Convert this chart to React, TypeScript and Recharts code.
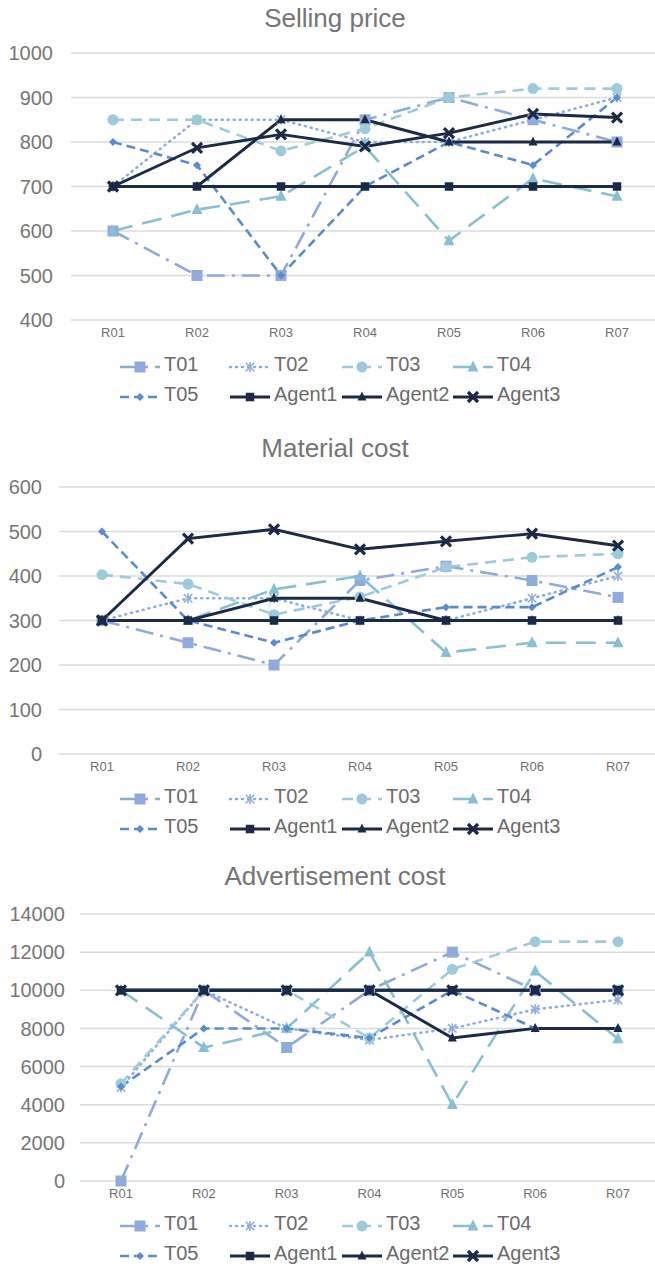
import React from 'react';
import { LineChart, Line, XAxis, YAxis, CartesianGrid } from 'recharts';

// ---------- data ----------
const categories = ['R01', 'R02', 'R03', 'R04', 'R05', 'R06', 'R07'];
const seriesNames = ['T01', 'T02', 'T03', 'T04', 'T05', 'Agent1', 'Agent2', 'Agent3'];

const sellingTitle = 'Selling price';
const sellingTicks = [400, 500, 600, 700, 800, 900, 1000];
const sellingT01 = [600, 500, 500, 850, 900, 850, 800];
const sellingT02 = [700, 850, 850, 800, 800, 850, 900];
const sellingT03 = [850, 850, 780, 830, 900, 920, 920];
const sellingT04 = [600, 648, 678, 790, 578, 718, 678];
const sellingT05 = [800, 748, 500, 700, 800, 748, 900];
const sellingAgent1 = [700, 700, 700, 700, 700, 700, 700];
const sellingAgent2 = [700, 700, 850, 850, 800, 800, 800];
const sellingAgent3 = [700, 787, 817, 790, 820, 863, 855];

const materialTitle = 'Material cost';
const materialTicks = [0, 100, 200, 300, 400, 500, 600];
const materialT01 = [300, 250, 200, 390, 422, 390, 352];
const materialT02 = [300, 350, 350, 300, 300, 350, 400];
const materialT03 = [403, 382, 313, 353, 420, 442, 450];
const materialT04 = [300, 300, 370, 400, 228, 250, 250];
const materialT05 = [500, 300, 250, 300, 330, 330, 420];
const materialAgent1 = [300, 300, 300, 300, 300, 300, 300];
const materialAgent2 = [300, 300, 350, 350, 300, 300, 300];
const materialAgent3 = [300, 484, 505, 460, 478, 495, 468];

const adTitle = 'Advertisement cost';
const adTicks = [0, 2000, 4000, 6000, 8000, 10000, 12000, 14000];
const adT01 = [0, 10000, 7000, 10000, 12000, 10000, 10000];
const adT02 = [4900, 10000, 8000, 7400, 8000, 9000, 9500];
const adT03 = [5100, 10000, 10000, 7500, 11100, 12550, 12550];
const adT04 = [10000, 7000, 8000, 12000, 4000, 11000, 7450];
const adT05 = [4950, 8000, 8000, 7500, 10000, 8000, 8000];
const adAgent1 = [10000, 10000, 10000, 10000, 10000, 10000, 10000];
const adAgent2 = [10000, 10000, 10000, 10000, 7500, 8000, 8000];
const adAgent3 = [10000, 10000, 10000, 10000, 10000, 10000, 10000];

// ---------- styles ----------
const NAVY = '#1B2A47';
const STYLES: Record<string, any> = {
  T01: { color: '#8FAADC', dash: '18 7 3 7', marker: 'square', size: 11, width: 2.6 },
  T02: { color: '#8DAEE0', dash: '1 5', marker: 'star', size: 10, width: 2.6, cap: 'round' },
  T03: { color: '#9DCBDA', dash: '11 7', marker: 'circle', size: 11, width: 2.6 },
  T04: { color: '#86C0D2', dash: '20 10', marker: 'triangle', size: 11, width: 2.6 },
  T05: { color: '#5B8BCF', dash: '9 5', marker: 'diamond', size: 8, width: 2.6 },
  Agent1: { color: NAVY, dash: undefined, marker: 'square', size: 8.5, width: 2.9 },
  Agent2: { color: NAVY, dash: undefined, marker: 'triangle', size: 9, width: 2.9 },
  Agent3: { color: NAVY, dash: undefined, marker: 'x', size: 10, width: 2.9 },
};

const FONT = '"Liberation Sans", Arial, sans-serif';

function Marker({ kind, cx, cy, size, color }: any) {
  const s = size;
  if (cx == null || cy == null) return null;
  switch (kind) {
    case 'square':
      return <rect x={cx - s / 2} y={cy - s / 2} width={s} height={s} fill={color} />;
    case 'circle':
      return <circle cx={cx} cy={cy} r={s / 2} fill={color} />;
    case 'triangle':
      return (
        <polygon
          points={`${cx},${cy - s * 0.6} ${cx + s / 2},${cy + s * 0.4} ${cx - s / 2},${cy + s * 0.4}`}
          fill={color}
        />
      );
    case 'diamond':
      return (
        <polygon
          points={`${cx},${cy - s / 2} ${cx + s / 2},${cy} ${cx},${cy + s / 2} ${cx - s / 2},${cy}`}
          fill={color}
        />
      );
    case 'star': {
      const h = s / 2;
      return (
        <g stroke={color} strokeWidth={1.6}>
          <line x1={cx} y1={cy - h} x2={cx} y2={cy + h} />
          <line x1={cx - h * 0.85} y1={cy - h * 0.85} x2={cx + h * 0.85} y2={cy + h * 0.85} />
          <line x1={cx - h * 0.85} y1={cy + h * 0.85} x2={cx + h * 0.85} y2={cy - h * 0.85} />
        </g>
      );
    }
    case 'x': {
      const h = s / 2;
      return (
        <g stroke={color} strokeWidth={3.2}>
          <line x1={cx - h} y1={cy - h} x2={cx + h} y2={cy + h} />
          <line x1={cx - h} y1={cy + h} x2={cx + h} y2={cy - h} />
        </g>
      );
    }
    default:
      return null;
  }
}

function buildRows(list: number[][]) {
  return categories.map((c, i) => {
    const row: any = { cat: c };
    seriesNames.forEach((n, k) => {
      row[n] = list[k][i];
    });
    return row;
  });
}

const sellingData = buildRows([
  sellingT01, sellingT02, sellingT03, sellingT04, sellingT05, sellingAgent1, sellingAgent2, sellingAgent3,
]);
const materialData = buildRows([
  materialT01, materialT02, materialT03, materialT04, materialT05, materialAgent1, materialAgent2, materialAgent3,
]);
const adData = buildRows([adT01, adT02, adT03, adT04, adT05, adAgent1, adAgent2, adAgent3]);

function OneChart({ data, ticks, top, yWidth, pad, right, tickMargin }: any) {
  return (
    <div style={{ position: 'absolute', left: 0, top }}>
      <LineChart width={680} height={350} data={data} margin={{ top: 53, right, bottom: 0, left: 0 }}>
        <CartesianGrid vertical={false} stroke="#DCDCDC" strokeWidth={1.5} />
        <XAxis
          dataKey="cat"
          tickLine={false}
          axisLine={false}
          interval={0}
          height={30}
          padding={{ left: pad, right: pad }}
          tick={{ fill: '#707070', fontSize: 13, fontFamily: FONT }}
        />
        <YAxis
          type="number"
          domain={[ticks[0], ticks[ticks.length - 1]]}
          ticks={ticks}
          interval={0}
          tickLine={false}
          axisLine={false}
          width={yWidth}
          tickMargin={tickMargin}
          tick={{ fill: '#767676', fontSize: 20, fontFamily: FONT }}
        />
        {seriesNames.map((n) => {
          const st = STYLES[n];
          return (
            <Line
              key={n}
              dataKey={n}
              type="linear"
              stroke={st.color}
              strokeWidth={st.width}
              strokeDasharray={st.dash}
              strokeLinecap={st.cap || 'butt'}
              isAnimationActive={false}
              activeDot={false}
              dot={(p: any) => (
                <Marker key={`${n}-${p.index}`} kind={st.marker} cx={p.cx} cy={p.cy} size={st.size} color={st.color} />
              )}
            />
          );
        })}
      </LineChart>
    </div>
  );
}

function Legend({ baseline }: { baseline: number }) {
  const cols = [120, 230, 342, 453];
  return (
    <g>
      {seriesNames.map((n, i) => {
        const st = STYLES[n];
        const x = cols[i % 4];
        const yb = baseline + Math.floor(i / 4) * 30;
        const yl = yb - 4;
        return (
          <g key={n}>
            <line
              x1={x}
              y1={yl}
              x2={x + 40}
              y2={yl}
              stroke={st.color}
              strokeWidth={st.width}
              strokeDasharray={st.dash}
              strokeLinecap={st.cap || 'butt'}
            />
            <Marker kind={st.marker} cx={x + 20} cy={yl} size={st.size} color={st.color} />
            <text x={x + 44} y={yb} fontSize={20} fill="#6B6B6B" fontFamily={FONT}>
              {n}
            </text>
          </g>
        );
      })}
    </g>
  );
}

export default function App() {
  return (
    <div
      style={{
        position: 'absolute',
        left: 0,
        top: 0,
        width: 655,
        height: 1266,
        overflow: 'hidden',
        background: '#fff',
      }}
    >
      <OneChart data={sellingData} ticks={sellingTicks} top={0} yWidth={71} pad={42} right={21} tickMargin={12} />
      <OneChart data={materialData} ticks={materialTicks} top={434} yWidth={59} pad={43} right={19} tickMargin={11} />
      <OneChart data={adData} ticks={adTicks} top={861} yWidth={80} pad={41} right={21} tickMargin={9} />
      <svg
        width={655}
        height={1266}
        style={{ position: 'absolute', left: 0, top: 0, pointerEvents: 'none' }}
      >
        <text x={335} y={27} textAnchor="middle" fontSize={26} fill="#757575" fontFamily={FONT}>
          {sellingTitle}
        </text>
        <text x={335} y={457} textAnchor="middle" fontSize={26} fill="#757575" fontFamily={FONT}>
          {materialTitle}
        </text>
        <text x={335} y={885} textAnchor="middle" fontSize={26} fill="#757575" fontFamily={FONT}>
          {adTitle}
        </text>
        <Legend baseline={371} />
        <Legend baseline={803} />
        <Legend baseline={1230} />
      </svg>
    </div>
  );
}
